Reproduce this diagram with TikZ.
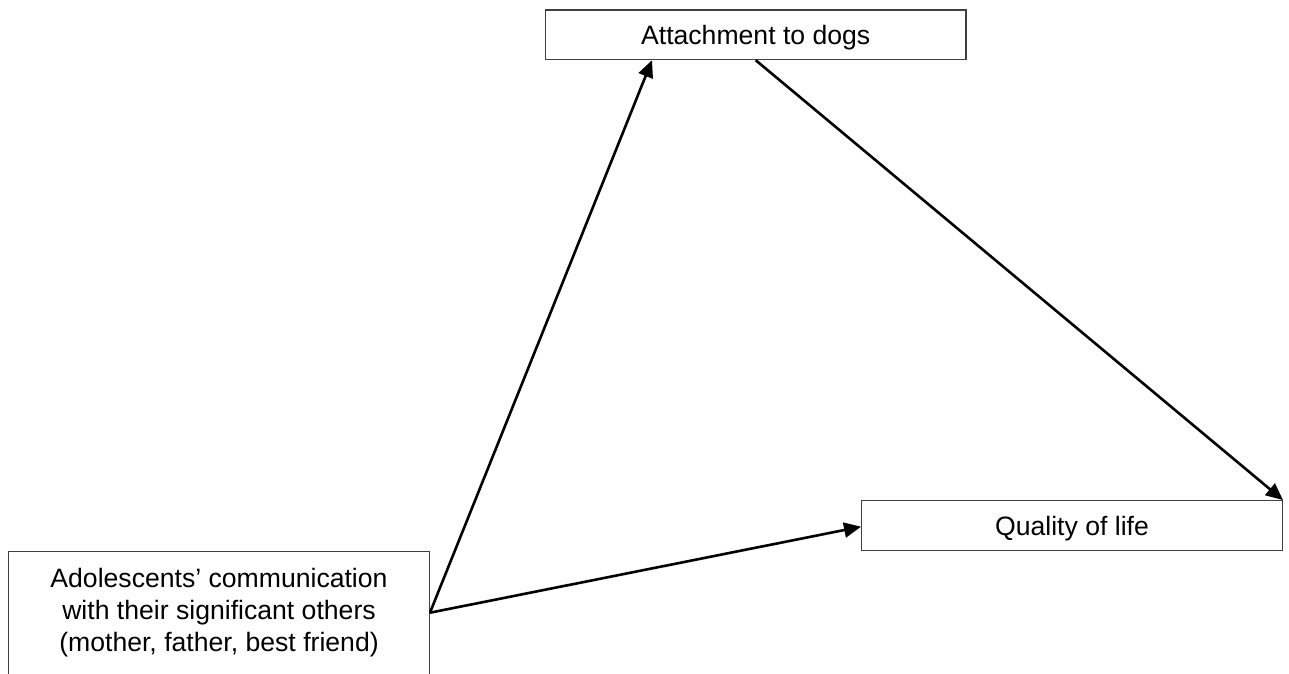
\documentclass[tikz,border=0pt]{standalone}
\usepackage{fontspec}
\setmainfont{Liberation Sans}
\usetikzlibrary{arrows.meta}
\tikzset{
  box/.style={draw=black!75, line width=1.3pt, minimum width=420.6pt, inner sep=0pt},
  lbl/.style={font=\fontsize{26.6}{32.2}\selectfont, inner sep=0pt},
  arr/.style={line width=2.6pt, -{Triangle[length=17pt,width=15pt]}}
}
\begin{document}
\begin{tikzpicture}[x=1pt,y=-1pt]
\useasboundingbox (0,0) rectangle (1289,673);
\clip (0,0) rectangle (1289,673);
\node[box, minimum height=49.5pt, lbl, text depth=0pt] (attach) at (755.7,34.8) {Attachment to dogs};
\node[box, minimum height=49.6pt, lbl, text depth=0pt] (quality) at (1072,525.5) {Quality of life};
\node[box, minimum height=135pt, anchor=north] (adol) at (219,551) {};
\node[lbl, align=center] (adoltext) at (219,612.7) {Adolescents’ communication\\with their significant others\\(mother, father, best friend)};
\coordinate (src) at (adol.east |- adoltext.center);
\draw[arr] (src) -- ([xshift=-103.7pt]attach.south);
\draw[arr] (attach.south) -- (quality.north east);
\draw[arr] (src) -- ([yshift=-1.2pt]quality.west);
\end{tikzpicture}
\end{document}
